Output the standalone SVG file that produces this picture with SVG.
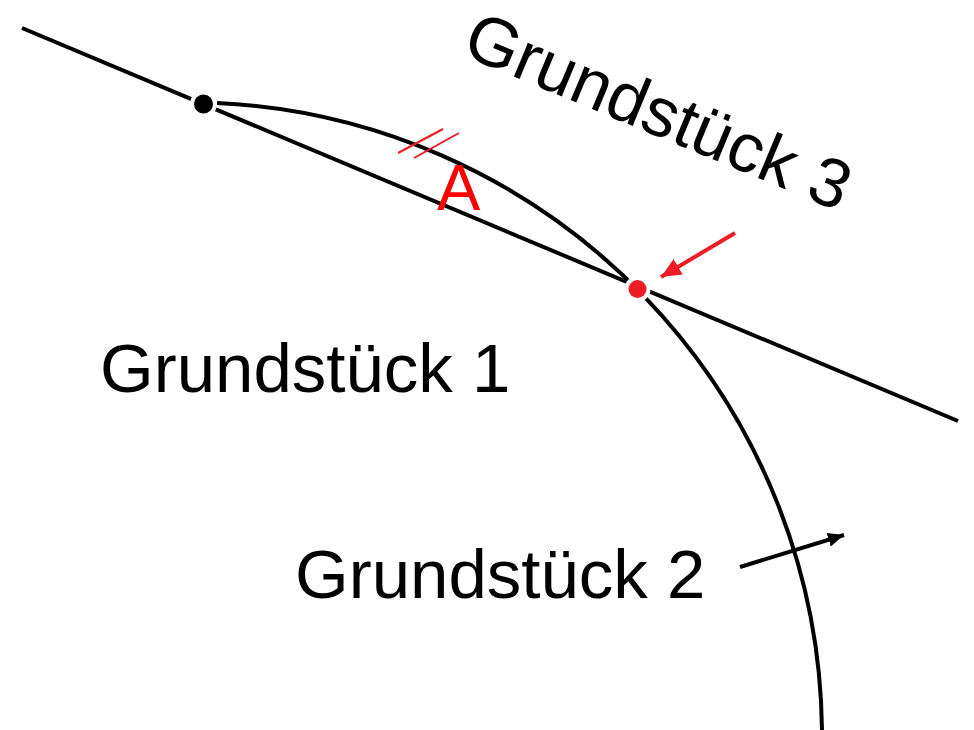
<svg xmlns="http://www.w3.org/2000/svg" width="974" height="730" viewBox="0 0 974 730">
<style>
.ln{fill:none;stroke:#000;stroke-width:4}
.lbl{font-family:"Liberation Sans",Arial,sans-serif;font-size:69px;fill:#000}
.red{fill:#EC1C24}
.halo{fill:#fff}
.hatch{stroke:#EC1C24;stroke-width:2;fill:none}
</style>
<defs>
<marker id="ahB" markerUnits="userSpaceOnUse" markerWidth="20" markerHeight="20" refX="16" refY="7" orient="auto">
<path d="M0,0 L16,7 L0,14 Z" fill="#000"/>
</marker>
<marker id="ahR" markerUnits="userSpaceOnUse" markerWidth="24" markerHeight="24" refX="20" refY="9" orient="auto">
<path d="M0,0 L20,9 L0,18 Z" fill="#EC1C24"/>
</marker>
</defs>
<g id="connectors">
<line class="ln" x1="22" y1="28" x2="958" y2="421"/>
<path class="ln" d="M217,103 A634.6,634.6 0 0 1 822,730"/>
<line class="hatch" x1="398" y1="153" x2="443" y2="129"/>
<line class="hatch" x1="414" y1="158" x2="459" y2="133"/>
<line x1="735" y1="233" x2="661" y2="277" stroke="#EC1C24" stroke-width="4" marker-end="url(#ahR)"/>
<line x1="740" y1="567" x2="844" y2="535" stroke="#000" stroke-width="4" marker-end="url(#ahB)"/>
</g>
<g id="point-left">
<circle class="halo" cx="203.5" cy="104" r="13.5"/>
<circle cx="203.5" cy="104" r="9.5" fill="#000"/>
</g>
<g id="point-red">
<circle class="halo" cx="637.5" cy="289" r="13"/>
<circle class="red" cx="637.5" cy="289" r="9"/>
</g>
<g id="label-A">
<text x="437" y="210" font-family="Liberation Sans,Arial,sans-serif" font-size="65" fill="#FF0000">A</text>
</g>
<g id="grundstueck1">
<text class="lbl" x="100" y="392">Grundstück 1</text>
</g>
<g id="grundstueck2">
<text class="lbl" x="295" y="598">Grundstück 2</text>
</g>
<g id="grundstueck3">
<text class="lbl" transform="translate(460,54) rotate(22.6)">Grundstück 3</text>
</g>
</svg>
